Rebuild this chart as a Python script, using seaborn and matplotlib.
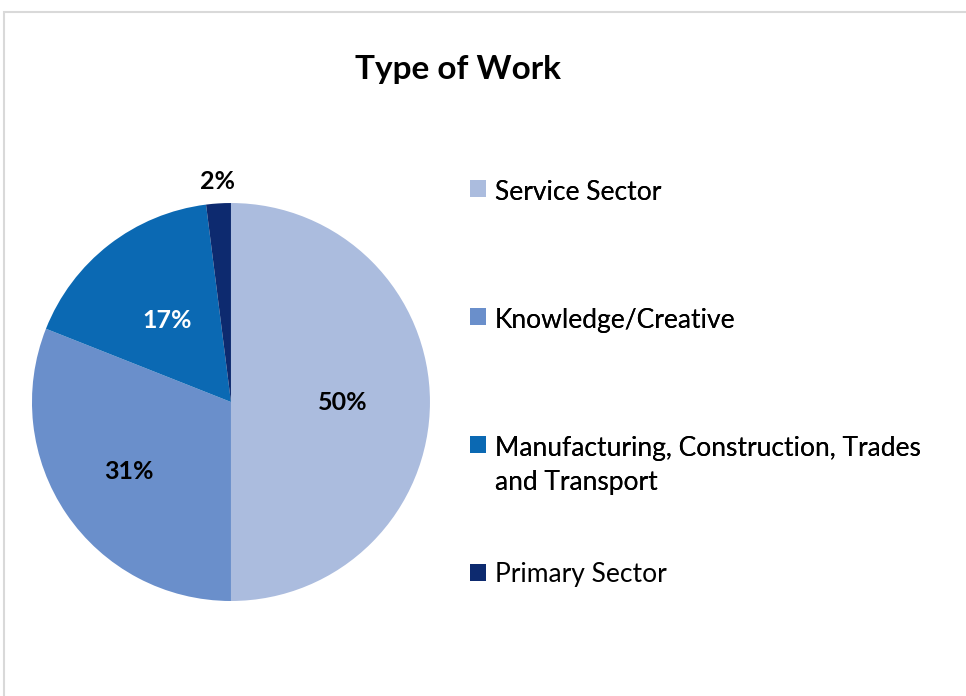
import matplotlib
matplotlib.use("Agg")
import matplotlib.pyplot as plt
import seaborn as sns
import numpy as np
from matplotlib.patches import Rectangle

sns.set_theme(style="white")
plt.rcParams["font.family"] = ["Lato", "DejaVu Sans"]
plt.rcParams["text.color"] = "black"

# data
categories = ["Service Sector", "Knowledge/Creative",
              "Manufacturing, Construction, Trades\nand Transport", "Primary Sector"]
shares = [50, 31, 17, 2]
colors = ["#abbcde", "#6a8fcb", "#0b69b3", "#0d2a6f"]
label_colors = ["black", "black", "white", "black"]
label_dist = [0.56, 0.62, 0.52, 1.11]

fig = plt.figure(figsize=(9.66, 6.96), dpi=100)
ax = fig.add_axes([0.0331, 0.1365, 0.412, 0.5718])

wedges, _, autotexts = ax.pie(shares, colors=colors, startangle=90, counterclock=False,
                              autopct="%1.0f%%", pctdistance=0.6,
                              wedgeprops=dict(linewidth=0))
for w, t, c, d in zip(wedges, autotexts, label_colors, label_dist):
    ang = np.deg2rad((w.theta1 + w.theta2) / 2)
    t.set_position((d * np.cos(ang), d * np.sin(ang)))
    t.set_color(c)
    t.set_fontsize(18)
    t.set_fontweight("bold")
ax.set_xlim(-1, 1)
ax.set_ylim(-1, 1)
ax.set_aspect("equal")

fig.text(0.474, 1 - 70 / 696, "Type of Work", ha="center", va="center",
         fontsize=24, fontweight="bold")

leg_kw = dict(loc="upper left", frameon=False, fontsize=19, handlelength=0.6,
              handleheight=0.6, handletextpad=0.35, labelspacing=3.91,
              borderpad=0, borderaxespad=0)
# Excel spaces the entries by first line, so the last one gets its own legend
leg1 = fig.legend(wedges[:3], categories[:3], bbox_to_anchor=(0.4865, 0.7414), **leg_kw)
for row in leg1._legend_handle_box.get_children()[0].get_children():
    row.align = "top"
for t in leg1.get_texts():
    t.set_linespacing(1.43)
fig.add_artist(leg1)
fig.legend(wedges[3:], categories[3:], bbox_to_anchor=(0.4865, 0.1925), **leg_kw)

fig.patches.append(Rectangle((4 / 966, -0.1), 1.2, 1.1 - 12 / 696, fill=False,
                             edgecolor="#d9d9d9", linewidth=1.5,
                             transform=fig.transFigure))

fig.savefig("out.png", dpi=100)
